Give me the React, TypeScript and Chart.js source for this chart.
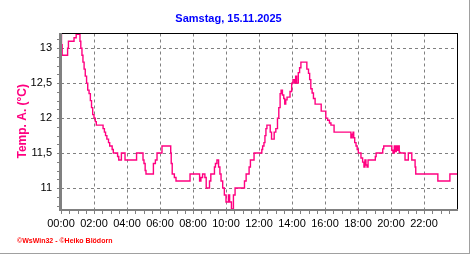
import React, { useEffect, useRef } from 'react';
import { Chart, registerables } from 'chart.js';

Chart.register(...registerables);

const titleText = 'Samstag, 15.11.2025';
const yAxisTitle = 'Temp. A. (°C)';
const footerText = '©WsWin32 - ©Heiko Blödorn';

// time of day in hours, and the temperature that holds from that time on
const hours = [
  0, 0.03, 0.07, 0.40, 0.45, 0.79, 0.92, 1.15, 1.20, 1.27, 1.33, 1.40, 1.47, 1.55, 1.62, 1.70,
  1.78, 1.85, 1.92, 2.00, 2.08, 2.14, 2.55, 2.63, 2.70, 2.78, 2.88, 2.95, 3.10, 3.17, 3.43, 3.50,
  3.66, 3.88, 4.58, 4.97, 5.03, 5.10, 5.15, 5.60, 5.72, 5.82, 6.12, 6.65, 6.68, 6.74, 6.87, 6.97,
  7.82, 8.40, 8.48, 8.58, 8.72, 8.80, 9.00, 9.08, 9.30, 9.36, 9.45, 9.55, 9.63, 9.70, 9.80, 9.90,
  10.00, 10.15, 10.22, 10.33, 10.45, 10.55, 11.12, 11.22, 11.40, 11.48, 11.70, 12.17, 12.22, 12.30,
  12.36, 12.42, 12.48, 12.68, 12.76, 12.92, 13.02, 13.12, 13.20, 13.28, 13.34, 13.42, 13.50, 13.56,
  13.62, 13.70, 13.88, 13.98, 14.06, 14.15, 14.22, 14.28, 14.38, 14.46, 14.54, 14.90, 15.00, 15.07,
  15.14, 15.22, 15.30, 15.40, 15.77, 16.05, 16.16, 16.27, 16.36, 16.55, 17.57, 17.65, 17.70, 17.74,
  17.80, 17.88, 17.95, 18.02, 18.18, 18.28, 18.36, 18.42, 18.48, 18.55, 18.61, 19.05, 19.10, 19.50,
  19.56, 20.05, 20.12, 20.20, 20.26, 20.32, 20.38, 20.44, 20.50, 20.57, 20.85, 21.05, 21.26, 21.46,
  21.50, 22.84, 23.57, 24.0,
];
const temps = [
  13.2, 13.05, 12.9, 13.0, 13.1, 13.15, 13.2, 13.1, 13.0, 12.9, 12.8, 12.7, 12.6, 12.5, 12.4, 12.35,
  12.25, 12.15, 12.05, 12.0, 11.95, 11.9, 11.85, 11.8, 11.75, 11.7, 11.65, 11.6, 11.55, 11.5, 11.45, 11.4,
  11.5, 11.4, 11.5, 11.4, 11.35, 11.25, 11.2, 11.35, 11.4, 11.5, 11.6, 11.5, 11.35, 11.2, 11.15, 11.1,
  11.2, 11.1, 11.15, 11.2, 11.15, 11.0, 11.1, 11.2, 11.3, 11.35, 11.4, 11.3, 11.2, 11.1, 11.0, 10.9,
  10.8, 10.9, 10.8, 10.7, 10.9, 11.0, 11.1, 11.2, 11.3, 11.4, 11.5, 11.55, 11.6, 11.65,
  11.75, 11.85, 11.9, 11.8, 11.7, 11.8, 11.85, 12.0, 12.15, 12.35, 12.4, 12.33, 12.28, 12.2,
  12.26, 12.3, 12.38, 12.5, 12.55, 12.5, 12.6, 12.5, 12.65, 12.72, 12.8, 12.7, 12.64, 12.55,
  12.42, 12.36, 12.28, 12.2, 12.1, 12.0, 11.97, 11.93, 11.9, 11.8, 11.72, 11.77, 11.8, 11.72,
  11.65, 11.6, 11.55, 11.5, 11.43, 11.37, 11.3, 11.4, 11.33, 11.3, 11.4, 11.45, 11.5, 11.56,
  11.6, 11.54, 11.5, 11.6, 11.52, 11.6, 11.54, 11.6, 11.51, 11.5, 11.4, 11.5, 11.4, 11.3,
  11.2, 11.1, 11.2, 11.2,
];

const yTickValues = [11, 11.5, 12, 12.5, 13];
const xMin = 0;
const xMax = 24;
const xStep = 2;
const yMin = 10.7;
const yMax = 13.21;

const FONT = '"Liberation Sans", Arial, sans-serif';
const LINE_COLOR = '#ff0080';
const GRID_COLOR = '#808080';

const decor = {
  id: 'decor',
  afterDatasetsDraw(chart: any) {
    const { ctx, chartArea: a, scales } = chart;
    const x = scales.x;
    const y = scales.y;
    const L = Math.round(a.left);
    const R = Math.round(a.right);
    const T = Math.floor(a.top);
    const B = Math.round(a.bottom);
    ctx.save();
    ctx.fillStyle = '#000000';
    ctx.fillRect(L, T, R - L + 1, 1);
    ctx.fillRect(R, T, 1, B - T);
    ctx.fillStyle = GRID_COLOR;
    ctx.fillRect(L - 2, T, 3, B - T + 2);
    ctx.fillRect(L - 2, B, R - L + 3, 2);
    for (let h = xMin; h <= xMax - 0.25; h += 0.5) {
      const px = Math.round(x.getPixelForValue(h));
      ctx.fillRect(px, B + 2, 1, 3);
    }
    for (let v = 10.75; v <= 13.2; v += 0.125) {
      const py = Math.round(y.getPixelForValue(v));
      ctx.fillRect(L - 4, py, 2, 1);
    }
    ctx.restore();
  },
  afterDraw(chart: any) {
    const { ctx } = chart;
    ctx.save();
    ctx.font = 'bold 7px ' + FONT;
    ctx.fillStyle = '#ff0000';
    ctx.textBaseline = 'alphabetic';
    ctx.textAlign = 'left';
    ctx.fillText(footerText, 17, 243);
    ctx.fillStyle = '#a0a0a0';
    ctx.fillRect(469, 0, 1, 254);
    ctx.fillRect(0, 253, 470, 1);
    ctx.restore();
  },
};

function pad2(n: number) {
  return (n < 10 ? '0' : '') + n;
}

export default function App() {
  const ref = useRef<HTMLCanvasElement | null>(null);

  useEffect(() => {
    if (!ref.current) return;
    const chart = new Chart(ref.current, {
      type: 'line',
      data: {
        datasets: [
          {
            data: hours.map((h, i) => ({ x: h, y: temps[i] })),
            borderColor: LINE_COLOR,
            borderWidth: 1.4,
            pointRadius: 0,
            stepped: true,
            fill: false,
            tension: 0,
          },
        ],
      },
      options: {
        responsive: false,
        animation: false,
        devicePixelRatio: 1,
        layout: { padding: { left: 0, right: 15, top: 0, bottom: 0 } },
        plugins: {
          legend: { display: false },
          tooltip: { enabled: false },
          title: {
            display: true,
            text: titleText,
            color: '#0000ff',
            font: { family: FONT, size: 11, weight: 'bold' },
            padding: { top: 12, bottom: 8.3 },
          },
        },
        scales: {
          x: {
            type: 'linear',
            min: xMin,
            max: xMax,
            afterFit: (s: any) => {
              s.height = 46;
            },
            ticks: {
              stepSize: xStep,
              autoSkip: false,
              maxRotation: 0,
              minRotation: 0,
              padding: 8,
              color: '#000000',
              font: { family: FONT, size: 11 },
              callback: (v: any) => (v >= xMax ? '' : pad2(Number(v)) + ':00'),
            },
            grid: {
              drawTicks: false,
              lineWidth: 1,
              color: (c: any) =>
                c.tick && (c.tick.value === xMin || c.tick.value === xMax) ? 'rgba(0,0,0,0)' : GRID_COLOR,
            },
            border: { display: false, dash: [3, 3] },
          },
          y: {
            type: 'linear',
            min: yMin,
            max: yMax,
            afterFit: (s: any) => {
              s.width = 61;
            },
            afterBuildTicks: (s: any) => {
              s.ticks = yTickValues.map((v) => ({ value: v }));
            },
            ticks: {
              padding: 9,
              color: '#000000',
              font: { family: FONT, size: 11 },
              callback: (v: any) => String(v).replace('.', ','),
            },
            grid: {
              drawTicks: false,
              lineWidth: 1,
              color: GRID_COLOR,
            },
            border: { display: false, dash: [3, 3] },
            title: {
              display: true,
              text: yAxisTitle,
              color: LINE_COLOR,
              font: { family: FONT, size: 12, weight: 'bold' },
              padding: { top: 15, bottom: 0 },
            },
          },
        },
      },
      plugins: [decor],
    } as any);
    return () => chart.destroy();
  }, []);

  return (
    <div style={{ position: 'fixed', left: 0, top: 0, width: 472, height: 255, background: '#ffffff' }}>
      <canvas ref={ref} width={472} height={255} style={{ display: 'block', width: 472, height: 255 }} />
    </div>
  );
}
